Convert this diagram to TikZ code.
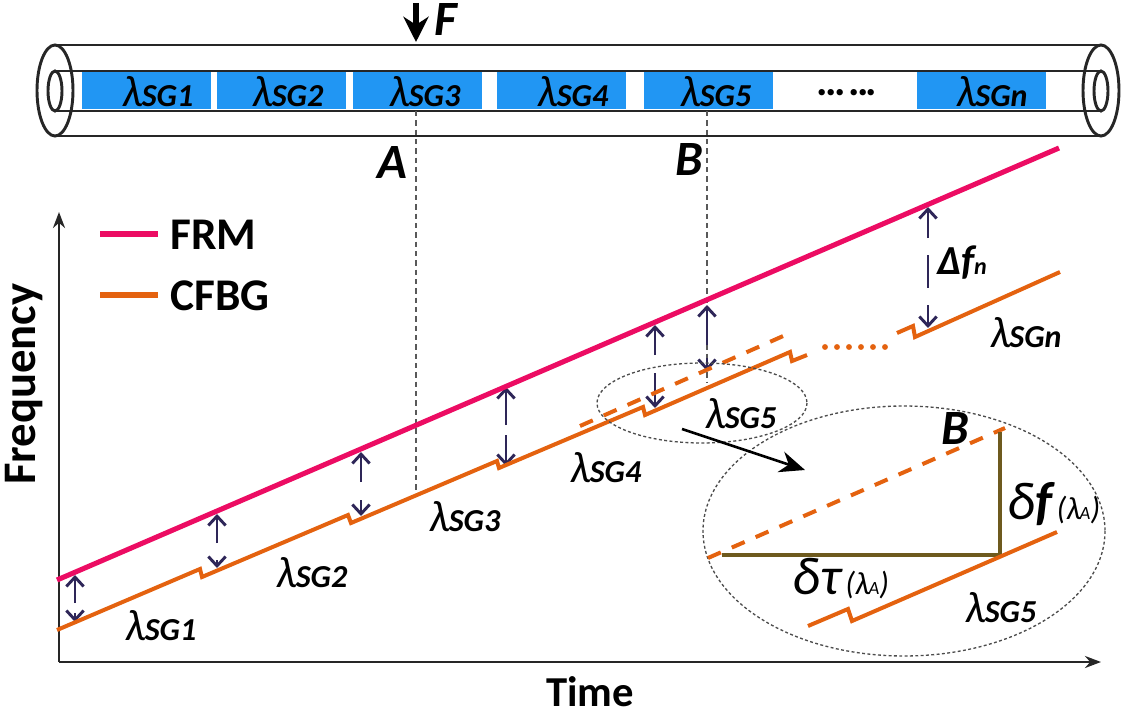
\documentclass[tikz,border=0pt]{standalone}
\usepackage{fontspec}
\setmainfont{Carlito}
\usetikzlibrary{arrows.meta}
\definecolor{frmpink}{HTML}{EC0C63}
\definecolor{cfbgorange}{HTML}{E4620F}
\definecolor{gratingblue}{HTML}{2196F3}
\definecolor{gaparrow}{HTML}{2E2658}
\definecolor{insetbrown}{HTML}{6E5A1E}
\newcommand{\lam}[1]{{\fontsize{33}{33}\selectfont\itshape λ}\kern-1pt{\fontsize{24}{24}\selectfont\itshape\bfseries #1}}
\tikzset{tube/.style={draw=black!85,line width=2.2pt},
        grating/.style={fill=gratingblue,draw=none},
        frm/.style={draw=frmpink,line width=3.8pt},
        cfbg/.style={draw=cfbgorange,line width=3pt,line join=miter},
        cfbgdash/.style={draw=cfbgorange,line width=3pt,dash pattern=on 10.5pt off 9pt},
        guide/.style={draw=black!65,line width=1.6pt,dash pattern=on 4pt off 3pt},
        gap/.style={draw=gaparrow,line width=2.2pt,-{Straight Barb[length=7pt,width=13pt]}},
        zoomring/.style={draw=black!70,line width=1pt,dash pattern=on 2.2pt off 1.8pt},
        axis/.style={draw=black!85,line width=2.2pt,-{Stealth[length=12pt,width=9pt]}},
        inset/.style={draw=insetbrown,line width=3pt},
        bigtext/.style={font=\fontsize{34}{34}\selectfont\bfseries,inner sep=0pt},
        mark label/.style={font=\fontsize{37}{37}\selectfont\bfseries\itshape},
        }
\begin{document}
\begin{tikzpicture}[x=0.75pt,y=-0.75pt]
    \useasboundingbox (0,0) rectangle (1125,717);

    % fibre
    \foreach \xa/\xb in {82/211,217/346,353/482,497/626,644/773,917/1046}
        \fill[grating] (\xa,72) rectangle (\xb,109);
    \draw[tube] (55,45) -- (1101,45);
    \draw[tube] (55,136) -- (1101,136);
    \draw[tube] (55,71) -- (1101,71);
    \draw[tube] (55,111) -- (1101,111);
    \draw[tube] (55,90.5) ellipse [x radius=18,y radius=45.5];
    \draw[tube] (55,91) ellipse [x radius=7,y radius=20];
    \draw[tube] (1101,90.5) ellipse [x radius=18,y radius=45.5];
    \draw[tube] (1101,91) ellipse [x radius=7,y radius=20];

    \node (sgone) at (158,92) {\lam{SG1}};
    \node (sgtwo) at (288,92) {\lam{SG2}};
    \node (sgthree) at (425,92) {\lam{SG3}};
    \node (sgfour) at (573,92) {\lam{SG4}};
    \node (sgfive) at (716,92) {\lam{SG5}};
    \node (sgn) at (992,92) {\lam{SGn}};
    \node[font=\fontsize{32}{32}\selectfont\bfseries] (dots) at (847,93) {.\kern-2pt.\kern-2pt.\kern2pt.\kern-2pt.\kern-2pt.};

    \coordinate (forcetop) at (416,3);
    \coordinate (forcetip) at (416,42);
    \draw[line width=4pt,-{Stealth[length=19pt,width=19pt]}] (forcetop) -- (forcetip);
    \node[mark label] (force) at (446,20) {F};
    \node[mark label] (marka) at (392,163) {A};
    \node[mark label] (markb) at (689,160) {B};

    % axes
    \coordinate (origin) at (59,662);
    \coordinate (ytip) at (59,212);
    \coordinate (xtip) at (1101,662);
    \draw[axis] (origin) -- (ytip);
    \draw[axis] (origin) -- (xtip);
    \node[bigtext,font=\fontsize{32}{32}\selectfont\bfseries] (timelabel) at (590,692) {Time};
    \node[bigtext,font=\fontsize{35}{35}\selectfont\bfseries,rotate=90] (freqlabel) at (24,384) {Frequency};

    % legend
    \coordinate (frma) at (100,234);
    \coordinate (frmb) at (158,234);
    \coordinate (cfbga) at (100,295);
    \coordinate (cfbgb) at (158,295);
    \draw[frm] (frma) -- (frmb);
    \draw[cfbg,line width=3.8pt] (cfbga) -- (cfbgb);
    \node[bigtext,anchor=west] (frmlabel) at (170,235) {FRM};
    \node[bigtext,anchor=west] (cfbglabel) at (170,296) {CFBG};

    % guides
    \draw[guide] (416,111) -- (416,493);
    \draw[guide] (707,111) -- (707,382);

    % gap arrows
    \foreach \x/\ya/\yb/\yc/\yd in {75/603/575/613/622,217/543/514/560/568,361/482/452/500/516,506/425/387/435/466,655/355/325/373/408,707/345/305/358/371,928/238/207/305/328}{
        \draw[gap] (\x,\ya) -- (\x,\yb);
        \draw[gap] (\x,\yc) -- (\x,\yd);
    }
    \draw[gap,-] (928,255) -- (928,288);

    % sweeps
    \draw[frm] (57,580) -- (1059,148);
    \draw[cfbg] (57,630) -- (200,569) -- (202,577) -- (348,515) -- (351,523) -- (497,461) -- (499,468)
        -- (643,407) -- (645,415) -- (790,352) -- (792,361) -- (807,355);
    \draw[cfbg] (897,333) -- (913,326) -- (915,337) -- (1060,272);
    \draw[cfbgdash] (580,426) -- (790,333);
    \draw[draw=cfbgorange,line width=4.4pt,line cap=round,dash pattern=on 0pt off 9pt] (825,347) -- (851,347);
    \draw[draw=cfbgorange,line width=4.4pt,line cap=round,dash pattern=on 0pt off 9pt] (861,347) -- (887,347);

    \node (chartone) at (161,626) {\lam{SG1}};
    \node (charttwo) at (312,573) {\lam{SG2}};
    \node (chartthree) at (465,517) {\lam{SG3}};
    \node (chartfour) at (606,468) {\lam{SG4}};
    \node (chartfive) at (741,414) {\lam{SG5}};
    \node (chartn) at (1026,333) {\lam{SGn}};
    \node[font=\fontsize{31}{31}\selectfont\bfseries\itshape] (deltaf) at (962,263) {Δf{\fontsize{18}{18}\selectfont n}};

    % zoom
    \draw[zoomring] (702,403) ellipse [x radius=105,y radius=40];
    \draw[zoomring] (904,531) ellipse [x radius=201,y radius=125];
    \coordinate (zooma) at (682,429);
    \coordinate (zoomb) at (805,470);
    \draw[line width=2pt,-{Stealth[length=19pt,width=16pt]}] (zooma) -- (zoomb);

    \coordinate (insetl) at (722,555);
    \coordinate (insetc) at (1000,555);
    \coordinate (insett) at (1000,432);
    \draw[cfbgdash] (708,558) -- (1005,428);
    \draw[inset] (insetl) -- (insetc) -- (insett);
    \draw[cfbg] (808,626) -- (848,609) -- (852,621) -- (1057,532);
    \node[mark label] (insetb) at (955,429) {B};
    \node (insetfive) at (1001,608) {\lam{SG5}};
    \node (dfa) at (1054,504) {{\fontsize{40}{40}\selectfont\itshape δ\bfseries f}\kern3pt{\fontsize{24}{24}\selectfont\itshape (λ\kern-1pt{\fontsize{14}{14}\selectfont A})}};
    \node (dta) at (841,579) {{\fontsize{40}{40}\selectfont\itshape δτ}\kern3pt{\fontsize{24}{24}\selectfont\itshape (λ\kern-1pt{\fontsize{14}{14}\selectfont A})}};
\end{tikzpicture}
\end{document}
